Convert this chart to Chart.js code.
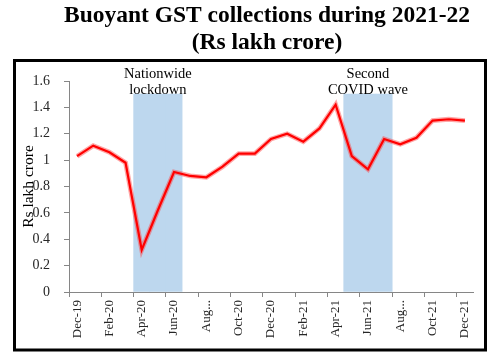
<!DOCTYPE html>
<html>
<head>
<meta charset="utf-8">
<script src="https://cdn.jsdelivr.net/npm/chart.js@4"></script>
<style>
  html, body { margin: 0; padding: 0; background: #fff; }
  #wrap { position: relative; width: 501px; height: 352px; }
</style>
</head>
<body>
<div id="wrap"><canvas id="c" width="501" height="352"></canvas></div>
<script>
// ---- data ----
const months = ['Dec-19','Jan-20','Feb-20','Mar-20','Apr-20','May-20','Jun-20','Jul-20','Aug-20','Sep-20','Oct-20','Nov-20',
                'Dec-20','Jan-21','Feb-21','Mar-21','Apr-21','May-21','Jun-21','Jul-21','Aug-21','Sep-21','Oct-21','Nov-21','Dec-21'];
const gst = [1.03, 1.11, 1.06, 0.98, 0.32, 0.62, 0.91, 0.88, 0.87, 0.95, 1.05, 1.05,
             1.16, 1.20, 1.14, 1.24, 1.42, 1.03, 0.93, 1.16, 1.12, 1.17, 1.30, 1.31, 1.30];
const shade = [null, null, null, null, 1.5, 1.5, 1.5, null, null, null, null, null,
               null, null, null, null, null, 1.5, 1.5, 1.5, null, null, null, null, null];
const xTickLabels = ['Dec-19','Feb-20','Apr-20','Jun-20','Aug...','Oct-20','Dec-20','Feb-21','Apr-21','Jun-21','Aug...','Oct-21','Dec-21'];
const yTickLabels = ['0','0.2','0.4','0.6','0.8','1','1.2','1.4','1.6'];
const titleLines = ['Buoyant GST collections during 2021-22', '(Rs lakh crore)'];
const bandNotes = [
  { from: 4, to: 6, lines: ['Nationwide', 'lockdown'] },
  { from: 17, to: 19, lines: ['Second', 'COVID wave'] }
];

const SERIF = '"Liberation Serif", "Times New Roman", serif';
const AXIS = '#868686';

const decor = {
  id: 'decor',
  afterDraw(chart) {
    const ctx = chart.ctx;
    const xs = chart.scales.x;
    ctx.save();
    // outer frame
    ctx.strokeStyle = '#000';
    ctx.lineWidth = 3;
    ctx.strokeRect(14.5, 60.5, 471, 289.5);
    // title
    ctx.fillStyle = '#000';
    ctx.textAlign = 'center';
    ctx.textBaseline = 'alphabetic';
    ctx.font = 'bold 23.5px ' + SERIF;
    ctx.fillText(titleLines[0], 267, 22);
    ctx.fillText(titleLines[1], 267, 49);
    // band notes
    ctx.font = '14.5px ' + SERIF;
    bandNotes.forEach(n => {
      const cx = (xs.getPixelForValue(n.from) + xs.getPixelForValue(n.to)) / 2;
      ctx.fillText(n.lines[0], cx, 78);
      ctx.fillText(n.lines[1], cx, 94);
    });
    ctx.restore();
  }
};

new Chart(document.getElementById('c'), {
  data: {
    labels: months,
    datasets: [
      { type: 'line', data: gst, borderColor: '#ff0000', borderWidth: 2.2, pointRadius: 0, tension: 0, order: 1 },
      { type: 'line', data: gst, borderColor: 'rgba(255,60,60,0.45)', borderWidth: 4.8, pointRadius: 0, tension: 0, order: 2 },
      { type: 'bar', data: shade, backgroundColor: '#bdd7ee', borderWidth: 0,
        categoryPercentage: 1.0, barPercentage: 1.0, order: 3 }
    ]
  },
  options: {
    responsive: false,
    animation: false,
    devicePixelRatio: 1,
    layout: { padding: { top: 81, left: 16, right: 28, bottom: 0 } },
    plugins: { legend: { display: false }, tooltip: { enabled: false }, title: { display: false } },
    scales: {
      x: {
        type: 'category',
        offset: true,
        grid: {
          offset: true,
          drawOnChartArea: false,
          drawTicks: true,
          tickLength: 5,
          color: (c) => (c.index % 2 === 0 ? AXIS : 'rgba(0,0,0,0)')
        },
        border: { display: true, color: AXIS, width: 1 },
        ticks: {
          autoSkip: false,
          maxRotation: 90,
          minRotation: 90,
          padding: 3,
          color: '#262626',
          font: { family: SERIF, size: 13 },
          callback: (v, i) => (i % 2 === 0 ? xTickLabels[i / 2] : '')
        },
        afterFit: (s) => { s.height = 60; }
      },
      y: {
        min: 0,
        max: 1.6,
        grid: { drawOnChartArea: false, drawTicks: true, tickLength: 5, color: AXIS },
        border: { display: true, color: AXIS, width: 1 },
        ticks: {
          stepSize: 0.2,
          padding: 14,
          color: '#262626',
          font: { family: SERIF, size: 14 },
          callback: (v, i) => yTickLabels[i]
        },
        title: {
          display: true,
          text: 'Rs lakh crore',
          color: '#000',
          font: { family: SERIF, size: 15.5 },
          padding: { top: 4, bottom: 0 }
        },
        afterFit: (s) => { s.width = 53; }
      }
    }
  },
  plugins: [decor]
});
</script>
</body>
</html>
